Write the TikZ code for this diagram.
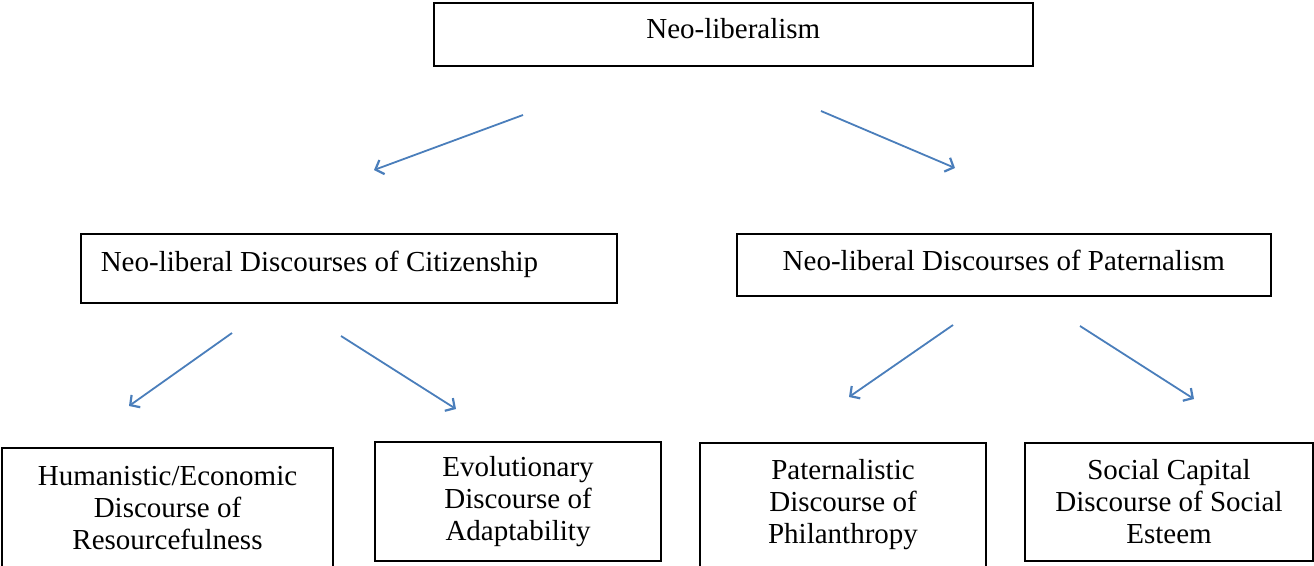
\documentclass[tikz,border=0pt]{standalone}
\usepackage{fontspec}
\setmainfont{Liberation Serif}
\usetikzlibrary{arrows.meta}
\definecolor{arrowblue}{HTML}{4A7EBB}
\begin{document}
\begin{tikzpicture}[x=1pt,y=-1pt,
  box/.style={draw=black,line width=1.6pt,inner sep=0pt,font=\fontsize{29}{32}\selectfont},
  arr/.style={draw=arrowblue,line width=1.8pt,-{Straight Barb[length=7pt,width=15pt,line width=2.2pt]}}]
\clip (0,0) rectangle (1314,565);
\useasboundingbox (0,0) rectangle (1314,565);
% top
\node[box,anchor=north west,minimum width=599pt,text height=36pt,text depth=27pt] (top) at (433,2) {Neo-liberalism};
% level 2
\node[box,anchor=north west,text width=496pt,align=flush left,inner xsep=20pt,text height=38pt,text depth=31pt] (cit) at (80,233) {Neo-liberal Discourses of Citizenship};
\node[box,anchor=north west,minimum width=534pt,text height=37pt,text depth=25pt] (pat) at (736,233) {Neo-liberal Discourses of Paternalism};
% level 3
\node[box,align=center,minimum width=331pt,minimum height=120pt] (hum) at (167.5,508) {Humanistic/Economic\\Discourse of\\Resourcefulness};
\node[box,align=center,minimum width=286pt,minimum height=119pt] (evo) at (518,501.5) {Evolutionary\\Discourse of\\Adaptability};
\node[box,align=center,minimum width=286pt,minimum height=124pt] (phi) at (843,505) {Paternalistic\\Discourse of\\Philanthropy};
\node[box,align=center,minimum width=288pt,minimum height=118pt] (soc) at (1169,502) {Social Capital\\Discourse of Social\\Esteem};
% arrows
\coordinate (a1s) at (523,115); \coordinate (a1e) at (374,170);
\coordinate (a2s) at (821,111); \coordinate (a2e) at (955,168);
\coordinate (a3s) at (232,333); \coordinate (a3e) at (129,406);
\coordinate (a4s) at (341,336); \coordinate (a4e) at (456,409);
\coordinate (a5s) at (953,325); \coordinate (a5e) at (849,397);
\coordinate (a6s) at (1080,326); \coordinate (a6e) at (1194,399);
\draw[arr] (a1s) -- (a1e);
\draw[arr] (a2s) -- (a2e);
\draw[arr] (a3s) -- (a3e);
\draw[arr] (a4s) -- (a4e);
\draw[arr] (a5s) -- (a5e);
\draw[arr] (a6s) -- (a6e);
\end{tikzpicture}
\end{document}
